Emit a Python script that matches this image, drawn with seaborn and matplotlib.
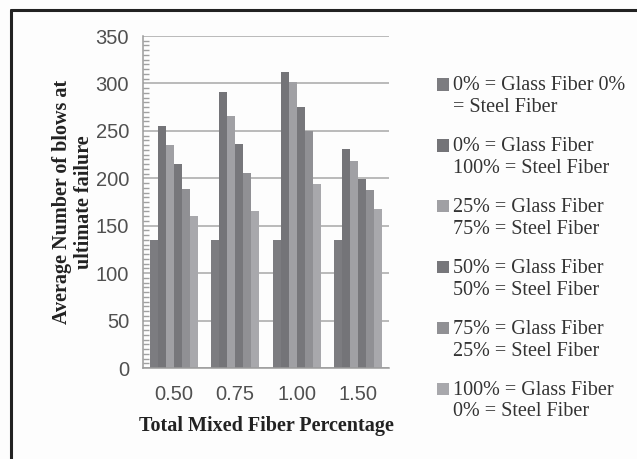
import matplotlib
matplotlib.use("Agg")
import matplotlib.pyplot as plt
from matplotlib.lines import Line2D
from matplotlib.patches import Rectangle
from matplotlib.legend_handler import HandlerPatch
from matplotlib.ticker import MultipleLocator
import pandas as pd
import seaborn as sns

# Total mixed fiber percentage groups
categories = ["0.50", "0.75", "1.00", "1.50"]

# Fiber blend series (legend labels)
series_labels = [
    "0% = Glass Fiber 0%\n= Steel Fiber",
    "0% = Glass Fiber\n100% = Steel Fiber",
    "25% = Glass Fiber\n75% = Steel Fiber",
    "50% = Glass Fiber\n50% = Steel Fiber",
    "75% = Glass Fiber\n25% = Steel Fiber",
    "100% = Glass Fiber\n0% = Steel Fiber",
]

# Average number of blows at ultimate failure, one list per blend
blows_g0_s0 = [135, 135, 135, 135]
blows_g0_s100 = [255, 291, 312, 231]
blows_g25_s75 = [235, 266, 301, 218]
blows_g50_s50 = [215, 236, 275, 199]
blows_g75_s25 = [189, 206, 250, 188]
blows_g100_s0 = [160, 165, 194, 168]

series_values = [blows_g0_s0, blows_g0_s100, blows_g25_s75,
                 blows_g50_s50, blows_g75_s25, blows_g100_s0]

bar_colors = ["#7c7c80", "#747478", "#a0a0a4", "#77777b", "#909094", "#a8a8ac"]

rows = []
for label, vals in zip(series_labels, series_values):
    for cat, v in zip(categories, vals):
        rows.append({"pct": cat, "blend": label, "blows": v})
df = pd.DataFrame(rows)

sns.set_theme(style="white")
plt.rcParams["font.family"] = ["Liberation Serif", "DejaVu Serif"]

FS = 14.5

fig = plt.figure(figsize=(6.37, 4.59), dpi=100)
fig.patch.set_facecolor("#fdfdfd")
ax = fig.add_axes([143 / 637, 1 - 368 / 459, 246 / 637, 332 / 459])
ax.set_facecolor("#fdfdfd")

sns.barplot(data=df, x="pct", y="blows", hue="blend", order=categories,
            hue_order=series_labels, palette=bar_colors, width=0.78,
            saturation=1, linewidth=0, errorbar=None, ax=ax, zorder=2)

ax.set_ylim(0, 350)
ax.set_xlim(-0.5, 3.5)
ax.yaxis.set_major_locator(MultipleLocator(50))
ax.yaxis.set_minor_locator(MultipleLocator(5))
ax.grid(axis="y", which="major", color="#a8a8a8", linewidth=1.1, zorder=0)
ax.set_axisbelow(True)

for side in ("top", "right"):
    ax.spines[side].set_visible(False)
for side in ("left", "bottom"):
    ax.spines[side].set_color("#9a9a9a")
    ax.spines[side].set_linewidth(1.1)

ax.tick_params(axis="y", which="major", direction="in", length=5,
               color="#9a9a9a", labelsize=FS, labelcolor="#505050", pad=10)
ax.tick_params(axis="y", which="minor", direction="in", length=4,
               color="#a0a0a0", left=True)
ax.tick_params(axis="x", length=0, labelsize=FS, labelcolor="#505050", pad=12)
for t in ax.get_xticklabels() + ax.get_yticklabels():
    t.set_fontfamily(["Liberation Sans", "DejaVu Sans"])

ax.set_xlabel("Total Mixed Fiber Percentage", fontsize=FS, fontweight="bold",
              color="#222222", labelpad=9)
ax.set_ylabel("Average Number of blows at\nultimate failure", fontsize=FS,
              fontweight="bold", color="#222222", labelpad=1,
              linespacing=1.15)


def top_square(legend, orig_handle, xdescent, ydescent, width, height, fontsize):
    # square swatch aligned with the first line of a two-line label
    return Rectangle((-xdescent, -ydescent + 0.6 * fontsize), width, height)


handles, labels = ax.get_legend_handles_labels()
ax.legend(handles, labels, loc="upper left",
          bbox_to_anchor=(437 / 637, 1 - 76 / 459),
          bbox_transform=fig.transFigure, frameon=False, fontsize=FS,
          handlelength=0.6, handleheight=0.6, handletextpad=0.2,
          labelspacing=1.0, borderaxespad=0, borderpad=0,
          labelcolor="#333333",
          handler_map={Rectangle: HandlerPatch(patch_func=top_square)})

# Frame lines on the top and left of the figure
fig.add_artist(Line2D([11 / 637, 1.0], [1 - 10 / 459, 1 - 10 / 459],
                      transform=fig.transFigure, color="#222222", linewidth=2.2))
fig.add_artist(Line2D([11 / 637, 11 / 637], [0.0, 1 - 10 / 459],
                      transform=fig.transFigure, color="#222222", linewidth=2.2))

fig.savefig("out.png", dpi=100, facecolor=fig.get_facecolor())
